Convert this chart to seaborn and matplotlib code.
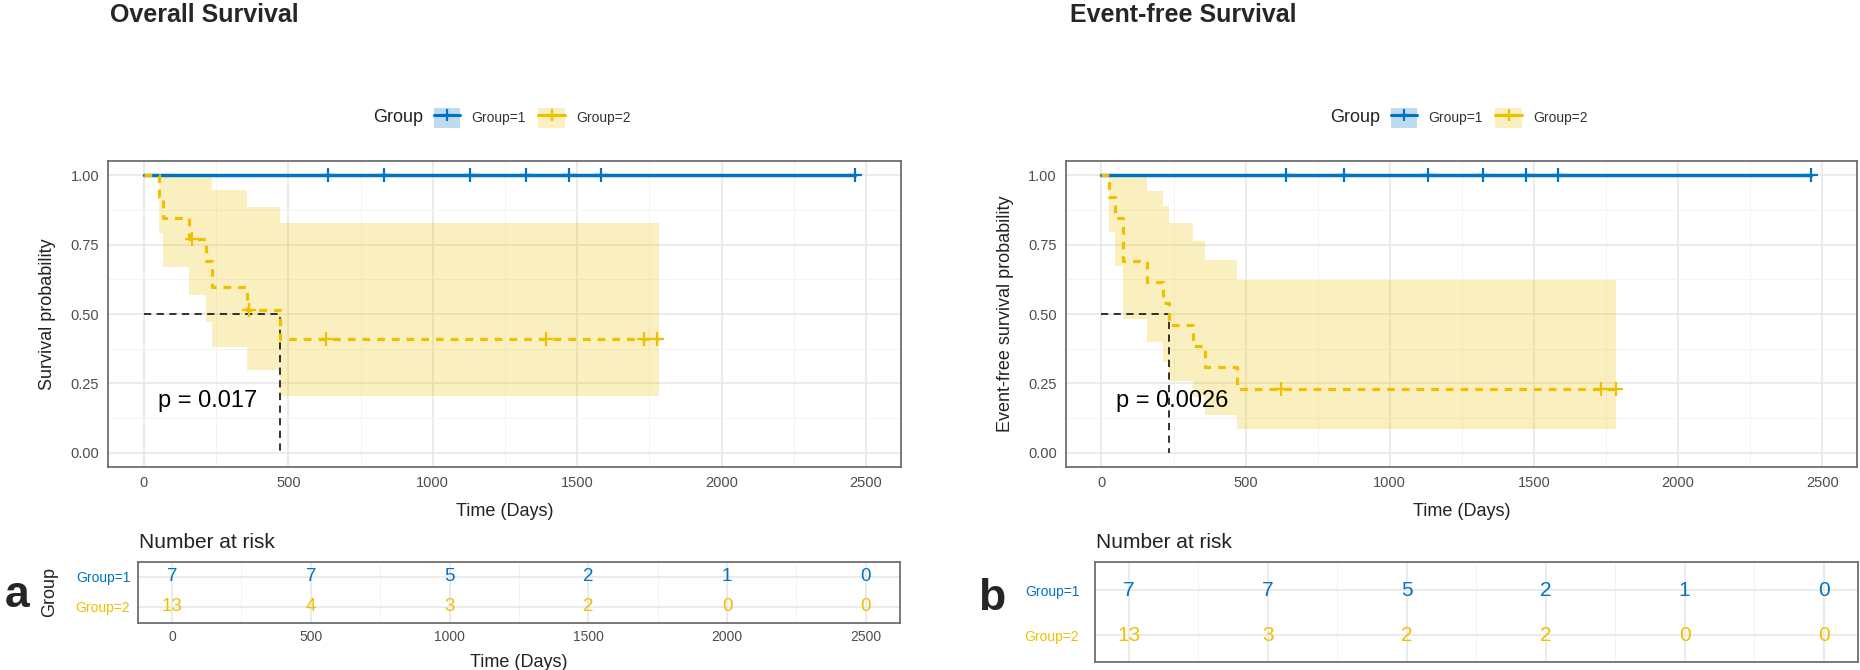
import numpy as np
import pandas as pd
import matplotlib
matplotlib.use('Agg')
import matplotlib.pyplot as plt
import seaborn as sns
from matplotlib.patches import Patch
from matplotlib.lines import Line2D
from matplotlib.ticker import MultipleLocator

# jco palette used by survminer
blue = '#0073C2'
gold = '#EFC000'

# ---------------- Overall survival (panel a) ----------------
os_g1_time = [0, 2462]
os_g1_surv = [1.0, 1.0]
os_g1_cens = [639, 832, 1130, 1323, 1470, 1584, 2462]
os_g1_cens_surv = [1.0, 1.0, 1.0, 1.0, 1.0, 1.0, 1.0]

os_g2_time = [0, 52, 68, 158, 216, 237, 358, 470, 1782]
os_g2_surv = [1.0, 0.923, 0.846, 0.769, 0.692, 0.598, 0.513, 0.410, 0.410]
os_g2_low = [1.0, 0.79, 0.67, 0.57, 0.47, 0.38, 0.30, 0.204, 0.204]
os_g2_up = [1.0, 1.0, 1.0, 1.0, 1.0, 0.945, 0.887, 0.828, 0.828]
os_g2_cens = [168, 363, 630, 1391, 1732, 1777]
os_g2_cens_surv = [0.769, 0.513, 0.410, 0.410, 0.410, 0.410]
os_median = 470
os_pval = 'p = 0.017'

# ---------------- Event-free survival (panel b) ----------------
efs_g1_time = [0, 2462]
efs_g1_surv = [1.0, 1.0]
efs_g1_cens = [640, 840, 1133, 1324, 1471, 1584, 2462]
efs_g1_cens_surv = [1.0, 1.0, 1.0, 1.0, 1.0, 1.0, 1.0]

efs_g2_time = [0, 25, 48, 74, 158, 215, 235, 319, 359, 469, 1784]
efs_g2_surv = [1.0, 0.923, 0.846, 0.692, 0.615, 0.538, 0.462, 0.385, 0.308, 0.231, 0.231]
efs_g2_low = [1.0, 0.795, 0.672, 0.481, 0.40, 0.326, 0.258, 0.20, 0.138, 0.087, 0.087]
efs_g2_up = [1.0, 1.0, 1.0, 1.0, 0.944, 0.889, 0.829, 0.764, 0.693, 0.622, 0.622]
efs_g2_cens = [624, 1733, 1784]
efs_g2_cens_surv = [0.231, 0.231, 0.231]
efs_median = 235
efs_pval = 'p = 0.0026'

# ---------------- Number at risk ----------------
risk_days = [0, 500, 1000, 1500, 2000, 2500]
os_risk_g1 = [7, 7, 5, 2, 1, 0]
os_risk_g2 = [13, 4, 3, 2, 0, 0]
efs_risk_g1 = [7, 7, 5, 2, 1, 0]
efs_risk_g2 = [13, 3, 2, 2, 0, 0]
group_labels = ['Group=1', 'Group=2']

sns.set_theme(style='whitegrid')
plt.rcParams['font.family'] = ['Liberation Sans', 'DejaVu Sans']

W, H = 1860, 670
fig = plt.figure(figsize=(W / 100, H / 100), dpi=100)
fig.patch.set_facecolor('white')


def fx(px):
    return px / W


def fy(py):
    return 1 - py / H


def box(l, t, r, b):
    return [fx(l), fy(b), (r - l) / W, (b - t) / H]


XLIM = (-123, 2622)


def style_axes(ax):
    ax.set_facecolor('white')
    ax.xaxis.set_minor_locator(MultipleLocator(250))
    ax.grid(which='major', color='#E6E6E6', lw=1.1)
    ax.grid(which='minor', color='#F3F3F3', lw=0.7)
    ax.tick_params(which='minor', length=0)
    for s in ax.spines.values():
        s.set_color('#6E6E6E')
        s.set_linewidth(1.3)
        s.set_visible(True)


def km_panel(ax, g1_t, g1_s, g1_c, g1_cs, g2_t, g2_s, g2_lo, g2_up, g2_c, g2_cs,
             median, pval, ylabel):
    ax.fill_between(g2_t, g2_lo, g2_up, step='post', color=gold, alpha=0.25,
                    lw=0, zorder=1)
    sns.lineplot(x=g1_t, y=g1_s, ax=ax, color=blue, lw=2.5, estimator=None,
                 sort=False, drawstyle='steps-post', zorder=3)
    sns.scatterplot(x=g1_c, y=g1_cs, ax=ax, color=blue, marker='+', s=90,
                    linewidth=1.6, zorder=4)
    sns.lineplot(x=g2_t, y=g2_s, ax=ax, color=gold, lw=2.3, estimator=None,
                 sort=False, drawstyle='steps-post', linestyle=(0, (2.4, 2.2)),
                 zorder=5)
    sns.scatterplot(x=g2_c, y=g2_cs, ax=ax, color=gold, marker='+', s=90,
                    linewidth=1.6, zorder=6)
    ax.plot([0, median, median], [0.5, 0.5, 0.0], color='#222222', lw=1.3,
            linestyle=(0, (4, 3)), zorder=4)
    ax.text(50, 0.164, pval, fontsize=17, ha='left', va='baseline',
            color='black', zorder=7)

    ax.set_xlim(*XLIM)
    ax.set_ylim(-0.05, 1.05)
    ax.set_xticks(risk_days)
    ax.set_yticks([0, 0.25, 0.5, 0.75, 1.0])
    ax.set_yticklabels(['0.00', '0.25', '0.50', '0.75', '1.00'])
    ax.yaxis.set_minor_locator(MultipleLocator(0.125))
    style_axes(ax)
    ax.tick_params(which='major', length=3.5, width=1, color='#444444',
                   labelsize=10.5, labelcolor='#4D4D4D', pad=3)
    ax.set_xlabel('Time (Days)', fontsize=13, color='#222222')
    ax.set_ylabel(ylabel, fontsize=13, color='#222222')
    ax.xaxis.set_label_coords(0.5, -0.118)
    ax.yaxis.set_label_coords(-0.066, 0.5)


def risk_panel(ax, n1, n2, fsize, ylim, show_axis):
    for d, a, b in zip(risk_days, n1, n2):
        ax.text(d, 2, str(a), color=blue, ha='center', va='center', fontsize=fsize)
        ax.text(d, 1, str(b), color=gold, ha='center', va='center', fontsize=fsize)
    ax.set_xlim(*XLIM)
    ax.set_ylim(*ylim)
    ax.set_xticks(risk_days)
    ax.set_yticks([2, 1])
    ax.set_yticklabels(group_labels)
    style_axes(ax)
    if show_axis:
        ax.tick_params(which='major', length=3.5, width=1, color='#444444',
                       labelsize=10, labelcolor='#4D4D4D', pad=2)
        ax.set_xlabel('Time (Days)', fontsize=13, color='#222222')
        ax.xaxis.set_label_coords(0.5, -0.52)
        ax.set_ylabel('Group', fontsize=13, color='#222222')
        ax.yaxis.set_label_coords(-0.105, 0.5)
    else:
        ax.tick_params(axis='x', which='both', length=0, labelbottom=False)
        ax.tick_params(axis='y', which='both', length=0, labelsize=10, pad=11)
        ax.set_xlabel('')
        ax.set_ylabel('')
    for lab, c in zip(ax.get_yticklabels(), [blue, gold]):
        lab.set_color(c)


def add_legend(x_group, x_items, y):
    fig.text(fx(x_group), fy(y), 'Group', ha='right', va='center',
             fontsize=13, color='#222222')
    handles = []
    for c in [blue, gold]:
        handles.append((Patch(facecolor=c, alpha=0.25, lw=0),
                        Line2D([], [], color=c, lw=2.2, marker='+', ms=9, mew=1.6)))
    fig.legend(handles, group_labels, loc='center left',
               bbox_to_anchor=(fx(x_items), fy(y)), ncol=2, frameon=False,
               fontsize=10, handlelength=1.9, handleheight=1.9,
               handletextpad=0.8, columnspacing=0.9, borderpad=0,
               borderaxespad=0, labelcolor='#333333')


# ----- main survival plots -----
ax_a = fig.add_axes(box(108.3, 161.3, 901.3, 466.7))
km_panel(ax_a, os_g1_time, os_g1_surv, os_g1_cens, os_g1_cens_surv,
         os_g2_time, os_g2_surv, os_g2_low, os_g2_up, os_g2_cens, os_g2_cens_surv,
         os_median, os_pval, 'Survival probability')

ax_b = fig.add_axes(box(1066, 161.3, 1857.3, 466.7))
km_panel(ax_b, efs_g1_time, efs_g1_surv, efs_g1_cens, efs_g1_cens_surv,
         efs_g2_time, efs_g2_surv, efs_g2_low, efs_g2_up, efs_g2_cens, efs_g2_cens_surv,
         efs_median, efs_pval, 'Event-free survival probability')

# ----- risk tables -----
rt_a = fig.add_axes(box(138, 561.7, 899.6, 622.7))
risk_panel(rt_a, os_risk_g1, os_risk_g2, 13.5, (0.47, 2.5), True)

rt_b = fig.add_axes(box(1094.5, 561.7, 1857.5, 661.7))
risk_panel(rt_b, efs_risk_g1, efs_risk_g2, 15, (0.41, 2.63), False)

# ----- titles, legends, labels -----
fig.text(fx(110), fy(22), 'Overall Survival', fontsize=18, weight='bold',
         ha='left', va='baseline')
fig.text(fx(1070), fy(22), 'Event-free Survival', fontsize=18, weight='bold',
         ha='left', va='baseline')

add_legend(423, 434, 118)
add_legend(1380, 1391, 118)

fig.text(fx(139), fy(548), 'Number at risk', fontsize=15, ha='left',
         va='baseline', color='#222222')
fig.text(fx(1095.5), fy(548), 'Number at risk', fontsize=15, ha='left',
         va='baseline', color='#222222')

fig.text(fx(17), fy(607), 'a', fontsize=32, weight='bold', ha='center',
         va='baseline')
fig.text(fx(992), fy(610), 'b', fontsize=32, weight='bold', ha='center',
         va='baseline')

fig.savefig('out.png', dpi=100, facecolor='white')
